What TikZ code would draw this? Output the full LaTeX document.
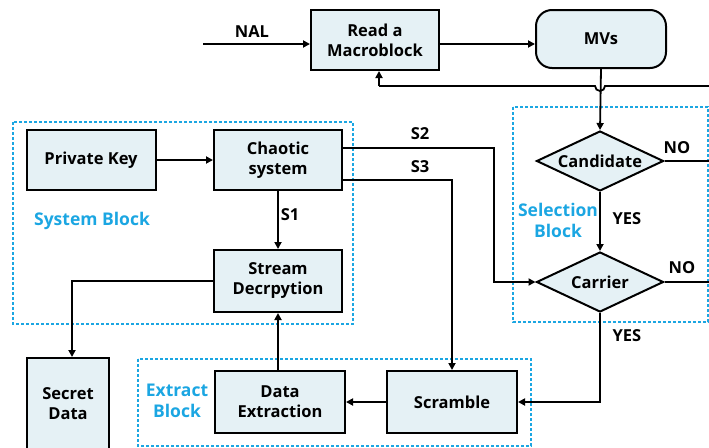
\documentclass[tikz,border=0pt]{standalone}
\usepackage{fontspec}
\setmainfont{Open Sans}
\usetikzlibrary{arrows.meta,shapes.geometric}
\definecolor{boxfill}{HTML}{E5F1F5}
\definecolor{dashblue}{HTML}{1BA6E2}
\begin{document}
\begin{tikzpicture}[x=1pt,y=-1pt,
  font=\fontsize{16.5}{20}\selectfont\bfseries,
  every node/.style={inner sep=0pt, align=center},
  box/.style={draw, line width=2pt, fill=boxfill, minimum width=128pt, minimum height=60pt},
  dia/.style={draw, line width=2pt, fill=boxfill, diamond, aspect=2.1, minimum width=127pt, minimum height=60pt},
  conn/.style={line width=1.8pt, -{Triangle[length=7pt,width=7pt]}},
  plain/.style={line width=1.8pt},
  grp/.style={draw=dashblue, line width=1.6pt, dash pattern=on 3pt off 2pt},
  lbl/.style={text=black},
  blbl/.style={text=dashblue, font=\fontsize{17.5}{21}\selectfont\bfseries}]
\useasboundingbox (0,0) rectangle (709,447);
% group boxes
\draw[grp] (513,107) rectangle (708,322);
\draw[grp] (13,122) rectangle (353,324);
\draw[grp] (138,359) rectangle (531,446);
% nodes
\node[box] (read) at (375,40) {Read a\\Macroblock};
\node[box, rounded corners=16pt, minimum width=130pt, minimum height=58pt] (mvs) at (601,39) {MVs};
\node[dia] (cand) at (600,161) {Candidate};
\node[dia] (carr) at (600,282) {Carrier};
\node[box, minimum width=129pt] (pk) at (91,160) {Private Key};
\node[box] (chaos) at (278,160) {Chaotic\\system};
\node[box, minimum height=62pt] (stream) at (278,281) {Stream\\Decrpytion};
\node[box, minimum width=82pt, minimum height=92pt] (secret) at (68,404) {Secret\\Data};
\node[box, minimum width=130pt, minimum height=62pt] (dext) at (280,402) {Data\\Extraction};
\node[box, minimum width=130pt, minimum height=62pt] (scr) at (452,402) {Scramble};
% coordinates
\coordinate (nalin) at (203,44);
\coordinate (fbR) at (709,86);
\coordinate (fbL) at (379,86);
\coordinate (hopR) at (605,86);
\coordinate (noA) at (709,161);
\coordinate (noB) at (709,282);
\coordinate (s2a) at (343,148);
\coordinate (s2b) at (494,148);
\coordinate (s3a) at (343,180);
\coordinate (s3b) at (452,180);
% connectors
\draw[conn] (nalin) -- (nalin -| read.west);
\draw[conn] (read.east |- nalin) -- (mvs.west |- nalin);
\draw[plain] (fbR) -- (hopR) arc (0:180:5) -- (fbL);
\draw[conn] (fbL) -- (fbL |- read.south);
\draw[conn] (mvs.south) -- (cand.north);
\draw[conn] (cand.south) -- (carr.north);
\draw[plain] (cand.east) -- (noA);
\draw[plain] (carr.east) -- (noB);
\draw[conn] (pk.east) -- (chaos.west);
\draw[conn] (chaos.south) -- (stream.north);
\draw[conn] (s2a) -- (s2b) |- (carr.west);
\draw[conn] (s3a) -- (s3b) -- (scr.north);
\draw[conn] (stream.west) -| (secret.north -| 72,0);
\draw[conn] (dext.north -| stream.south) -- (stream.south);
\draw[conn] (scr.west) -- (dext.east);
\draw[conn] (carr.south) |- (scr.east);
% labels
\node[lbl] (nal) at (252,32) {NAL};
\node[lbl] (s2) at (420,134) {S2};
\node[lbl] (s3) at (420,167) {S3};
\node[lbl] (s1) at (290,215) {S1};
\node[lbl] (yes1) at (627,219) {YES};
\node[lbl] (no1) at (677,148) {NO};
\node[lbl] (no2) at (682,268) {NO};
\node[lbl] (yes2) at (627,336) {YES};
\node[blbl] (sysb) at (92,221) {System Block};
\node[blbl] (selb) at (558,220) {Selection\\Block};
\node[blbl] (extb) at (177,401) {Extract\\Block};
\end{tikzpicture}
\end{document}
